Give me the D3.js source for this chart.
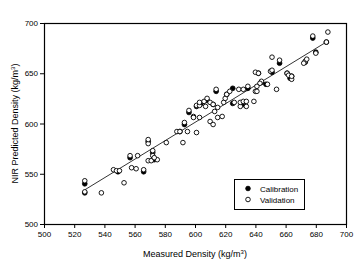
<!DOCTYPE html>
<html>
<head>
<meta charset="utf-8">
<script src="https://cdn.jsdelivr.net/npm/d3@7"></script>
<style>
  body { margin: 0; background: #fff; }
  svg { font-family: "Liberation Sans", Arial, sans-serif; }
</style>
</head>
<body>
<svg id="chart" width="363" height="262"></svg>
<script>
// measured density, NIR predicted density (kg/m3)
const calibration = [
  [527, 540], [527, 531], [549, 552], [557, 566], [566, 552], [569, 582],
  [572, 571], [573, 564], [590, 592], [593, 599], [596, 611], [601, 617],
  [604, 620], [608, 623], [612, 619], [614, 632], [621, 629], [625, 635],
  [625, 620], [632, 619], [635, 635], [642, 650], [644, 641], [647, 639],
  [651, 651], [656, 660], [661, 650], [663, 645], [664, 647], [673, 661],
  [680, 671], [678, 685], [687, 681]
];
const validation = [
  [527, 543], [527, 532], [538, 531], [546, 554], [548, 553], [550, 553],
  [553, 541], [557, 568], [562, 568], [558, 556], [561, 555], [569, 580],
  [572, 568], [569, 563], [571, 563], [575, 564], [581, 581], [588, 592],
  [590, 592], [592, 581], [595, 592], [599, 607], [601, 591], [601, 618],
  [603, 618], [603, 621], [606, 622], [607, 617], [610, 621], [612, 619],
  [615, 616], [613, 612], [619, 621], [620, 625], [621, 629], [623, 632],
  [626, 621], [629, 634], [632, 634], [630, 617], [634, 617], [603, 606],
  [610, 602], [612, 599], [615, 606], [618, 607], [599, 606], [651, 666],
  [656, 663], [640, 651], [642, 650], [650, 652], [661, 650], [662, 648],
  [664, 644], [644, 642], [643, 640], [648, 639], [641, 637], [640, 632],
  [641, 632], [654, 634], [630, 621], [632, 622], [634, 622], [639, 622],
  [688, 691], [687, 681], [680, 670], [673, 662], [674, 664], [672, 660],
  [664, 647], [566, 554], [569, 584], [593, 601], [596, 613], [614, 634],
  [678, 687], [651, 653], [635, 637], [608, 625], [573, 566], [572, 573]
];
// fitted line end points
const fitLine = [[527, 534], [688, 682]];
const xTicks = d3.range(500, 701, 20);
const yTicks = d3.range(500, 701, 50);
const legendItems = ["Calibration", "Validation"];

const svg = d3.select("#chart");
const m = { left: 44, right: 17, top: 23, bottom: 38 };
const width = +svg.attr("width");
const height = +svg.attr("height");

const x = d3.scaleLinear().domain([500, 700]).range([m.left, width - m.right]);
const y = d3.scaleLinear().domain([500, 700]).range([height - m.bottom, m.top]);

svg.append("g")
  .attr("transform", `translate(0,${height - m.bottom})`)
  .call(d3.axisBottom(x).tickValues(xTicks).tickSize(4).tickPadding(3).tickFormat(d3.format("d")))
  .call(g => g.selectAll("text").attr("font-size", 8).attr("fill", "#000").attr("font-family", "Liberation Sans, Arial"))
  .call(g => g.selectAll("line, path").attr("stroke", "#000"));

svg.append("g")
  .attr("transform", `translate(${m.left},0)`)
  .call(d3.axisLeft(y).tickValues(yTicks).tickSize(4).tickPadding(2).tickFormat(d3.format("d")))
  .call(g => g.selectAll("text").attr("font-size", 8).attr("fill", "#000").attr("font-family", "Liberation Sans, Arial"))
  .call(g => g.selectAll("line, path").attr("stroke", "#000"));

// frame
svg.append("rect")
  .attr("x", m.left + 0.5)
  .attr("y", m.top + 0.5)
  .attr("width", width - m.right - m.left)
  .attr("height", height - m.bottom - m.top)
  .attr("fill", "none")
  .attr("stroke", "#000")
  .attr("stroke-width", 1.2);

svg.append("path")
  .datum(fitLine)
  .attr("fill", "none")
  .attr("stroke", "#000")
  .attr("stroke-width", 0.8)
  .attr("d", d3.line().x(d => x(d[0])).y(d => y(d[1])));

svg.append("g").selectAll("circle")
  .data(calibration)
  .enter().append("circle")
    .attr("cx", d => x(d[0]))
    .attr("cy", d => y(d[1]))
    .attr("r", 2.4)
    .attr("fill", "#000")
    .attr("stroke", "#000")
    .attr("stroke-width", 0.8);

svg.append("g").selectAll("circle")
  .data(validation)
  .enter().append("circle")
    .attr("cx", d => x(d[0]))
    .attr("cy", d => y(d[1]))
    .attr("r", 2.3)
    .attr("fill", "#fff")
    .attr("stroke", "#000")
    .attr("stroke-width", 0.9);

// legend
const lg = svg.append("g").attr("transform", "translate(234,179)");
lg.append("rect")
  .attr("x", 0.5).attr("y", 0.5)
  .attr("width", 70).attr("height", 30)
  .attr("fill", "#fff").attr("stroke", "#000").attr("stroke-width", 1);
lg.selectAll("circle")
  .data(legendItems)
  .enter().append("circle")
    .attr("cx", 14)
    .attr("cy", (d, i) => 9.5 + i * 11)
    .attr("r", 2.3)
    .attr("fill", (d, i) => i === 0 ? "#000" : "#fff")
    .attr("stroke", "#000")
    .attr("stroke-width", 0.9);
lg.selectAll("text")
  .data(legendItems)
  .enter().append("text")
    .attr("x", 26)
    .attr("y", (d, i) => 12.5 + i * 11)
    .attr("font-size", 8)
    .attr("fill", "#000")
    .text(d => d);

// axis titles
const xt = svg.append("text")
  .attr("x", 195)
  .attr("y", 257)
  .attr("text-anchor", "middle")
  .attr("font-size", 9);
xt.append("tspan").text("Measured Density (kg/m");
xt.append("tspan").attr("dy", -3).attr("font-size", 6).text("3");
xt.append("tspan").attr("dy", 3).text(")");

const yt = svg.append("text")
  .attr("transform", `translate(18,${(m.top + height - m.bottom) / 2}) rotate(-90)`)
  .attr("text-anchor", "middle")
  .attr("font-size", 9);
yt.append("tspan").text("NIR Predicted Density (kg/m");
yt.append("tspan").attr("dy", -3).attr("font-size", 6).text("3");
yt.append("tspan").attr("dy", 3).text(")");
</script>
</body>
</html>
